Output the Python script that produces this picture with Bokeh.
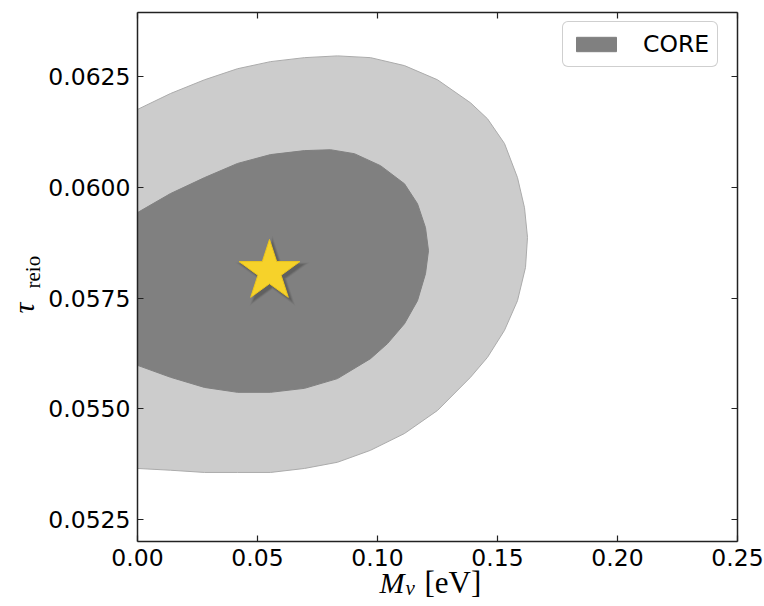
from bokeh.plotting import figure
from bokeh.models import (Range1d, LinearAxis, FixedTicker, Label, Legend,
                          LegendItem, ColumnDataSource)
from bokeh.transform import dodge
from bokeh.embed import file_html
from bokeh.resources import INLINE

# ---- data -------------------------------------------------------------
# 95% (outer) and 68% (inner) credible contours in the (M_nu, tau_reio) plane
outer_mnu = [0.0, 0.01375, 0.02792, 0.04167, 0.05542, 0.06958, 0.08333,
             0.09708, 0.11125, 0.125, 0.13875, 0.14583, 0.15292, 0.15833,
             0.16125, 0.1625, 0.16167, 0.15833, 0.15292, 0.14583, 0.13875,
             0.125, 0.11125, 0.09708, 0.08333, 0.06958, 0.05542, 0.04167,
             0.02792, 0.01375, 0.0]
outer_tau = [0.06176, 0.06212, 0.06243, 0.06268, 0.06284, 0.06293, 0.06297,
             0.06293, 0.06275, 0.06243, 0.06191, 0.06155, 0.06099, 0.06022,
             0.05954, 0.05887, 0.05819, 0.05744, 0.05677, 0.05616, 0.05571,
             0.05496, 0.05444, 0.05406, 0.05379, 0.05365, 0.05356, 0.05356,
             0.05356, 0.05361, 0.05365]

inner_mnu = [0.0, 0.01375, 0.02792, 0.04167, 0.05542, 0.06958, 0.08042,
             0.0904, 0.10125, 0.11125, 0.11667, 0.12, 0.12125, 0.12, 0.11667,
             0.11125, 0.10417, 0.09708, 0.08333, 0.06958, 0.05542, 0.04167,
             0.02792, 0.01375, 0.0]
inner_tau = [0.05943, 0.05986, 0.06022, 0.06054, 0.06074, 0.06083, 0.06085,
             0.06076, 0.06049, 0.06008, 0.05963, 0.05909, 0.05857, 0.05805,
             0.05744, 0.05692, 0.05647, 0.05613, 0.05568, 0.05546, 0.05537,
             0.05537, 0.05548, 0.05571, 0.05598]

# fiducial model
fid_mnu = [0.055]
fid_tau = [0.0581]

x_ticks = [0.0, 0.05, 0.10, 0.15, 0.20, 0.25]
x_tick_labels = ["0.00", "0.05", "0.10", "0.15", "0.20", "0.25"]
y_ticks = [0.0525, 0.0550, 0.0575, 0.0600, 0.0625]
y_tick_labels = ["0.0525", "0.0550", "0.0575", "0.0600", "0.0625"]

legend_label = "CORE"

# ---- layout geometry --------------------------------------------------
W, H = 764, 606
# axes box in canvas pixels and the data limits it spans
box_left, box_right, box_top, box_bottom = 137, 737, 12, 541
x_lo, x_hi = 0.0, 0.25
y_lo, y_hi = 0.052, 0.06395

dx = (x_hi - x_lo) / (box_right - box_left)   # data per pixel
dy = (y_hi - y_lo) / (box_bottom - box_top)

# the frame covers the whole canvas; axes are pinned to the box edges
x_range = Range1d(x_lo - box_left * dx, x_hi + (W - box_right) * dx)
y_range = Range1d(y_lo - (H - box_bottom) * dy, y_hi + box_top * dy)

p = figure(width=W, height=H, output_backend="svg", toolbar_location=None,
           x_range=x_range, y_range=y_range,
           x_axis_location=None, y_axis_location=None,
           min_border=0, min_border_left=0, min_border_right=0,
           min_border_top=0, min_border_bottom=0)
p.grid.visible = False
p.outline_line_color = None
p.background_fill_color = "white"
p.border_fill_color = "white"

tick_font = "DejaVu Sans"
axis_col = "#222222"


def make_axis(ticks, labels, show_labels, standoff, loc, bounds):
    ax = LinearAxis(fixed_location=loc, bounds=bounds)
    ax.ticker = FixedTicker(ticks=ticks)
    ax.axis_line_color = axis_col
    ax.axis_line_width = 1.5
    ax.major_tick_line_color = axis_col
    ax.major_tick_line_width = 1.2
    ax.major_tick_in = 6
    ax.major_tick_out = 0
    ax.minor_tick_line_color = None
    if show_labels:
        ax.major_label_overrides = dict(zip(ticks, labels))
        ax.major_label_text_font = tick_font
        ax.major_label_text_font_size = "23.5px"
        ax.major_label_text_color = "black"
        ax.major_label_standoff = standoff
    else:
        ax.major_label_overrides = {t: "" for t in ticks}
        ax.major_label_text_font_size = "1px"
        ax.major_label_text_color = None
        ax.major_label_standoff = 0
    return ax


p.add_layout(make_axis(x_ticks, x_tick_labels, True, 7, y_lo, (x_lo, x_hi)), "below")
p.add_layout(make_axis(y_ticks, y_tick_labels, True, 7, x_lo, (y_lo, y_hi)), "left")
p.add_layout(make_axis(x_ticks, x_tick_labels, False, 0, y_hi, (x_lo, x_hi)), "above")
p.add_layout(make_axis(y_ticks, y_tick_labels, False, 0, x_hi, (y_lo, y_hi)), "right")

# ---- contours ---------------------------------------------------------
outer = p.patch(outer_mnu, outer_tau, fill_color="#cccccc",
                line_color="#ababab", line_width=1)
inner = p.patch(inner_mnu, inner_tau, fill_color="#808080",
                line_color="#808080", line_width=1)

# ---- fiducial star with a soft drop shadow ----------------------------
star_src = ColumnDataSource(dict(x=fid_mnu, y=fid_tau))
for sz in (78, 74, 71, 68, 66, 64):
    p.scatter(x=dodge("x", 3 * dx, range=p.x_range),
              y=dodge("y", -3 * dy, range=p.y_range),
              source=star_src, marker="star", size=sz,
              fill_color="black", fill_alpha=0.045, line_color=None)
p.scatter(x="x", y="y", source=star_src, marker="star", size=64,
          fill_color="#f6d22a", line_color="#ecc51c", line_width=1)

# ---- legend -----------------------------------------------------------
legend = Legend(items=[LegendItem(label=legend_label, renderers=[inner])],
                location=(562, H - 67), padding=8, spacing=0, margin=0,
                glyph_width=50, glyph_height=18, label_standoff=22,
                label_text_font=tick_font, label_text_font_size="23.5px",
                label_text_color="black", label_height=24,
                border_line_color="#a0a0a0", border_line_width=1.2,
                background_fill_color="white", background_fill_alpha=1.0)
if "border_radius" in Legend.properties():
    legend.border_radius = 6
p.add_layout(legend, "center")

# ---- axis titles (math style, composed from text pieces) ----------------
serif = "Liberation Serif"


def piece(text, xo, yo, size, italic=False, angle=0.0):
    return Label(x=x_lo, y=y_lo, x_offset=xo, y_offset=yo, text=text,
                 text_font=serif,
                 text_font_style="italic" if italic else "normal",
                 text_font_size=size, text_baseline="alphabetic",
                 text_align="left", angle=angle, text_color="black")


p.add_layout(piece("M", 242, -41, "30px", italic=True))
p.add_layout(piece("ν", 268, -46, "21px", italic=True))
p.add_layout(piece("[eV]", 287, -41, "31px"))
p.add_layout(piece("τ", -114, 228, "30px", italic=True, angle=1.5707963))
p.add_layout(piece("reio", -105, 253, "21px", angle=1.5707963))

open("out.html", "w").write(file_html(p, INLINE))
